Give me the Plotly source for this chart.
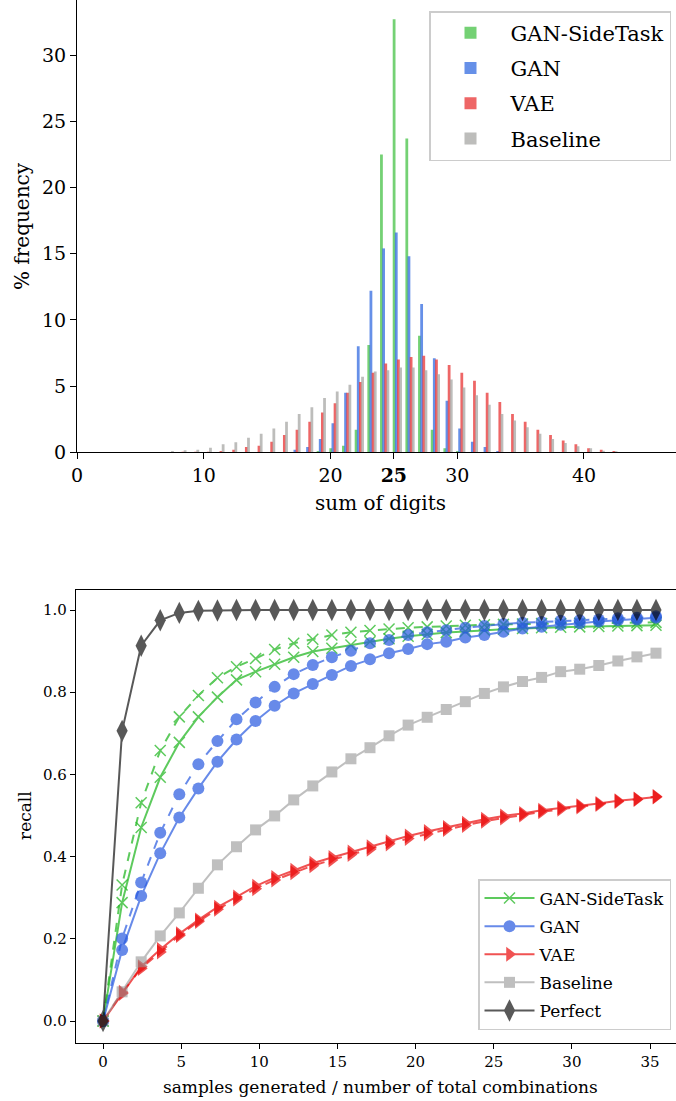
import plotly.graph_objects as go

# ---------------- top panel data: % frequency by sum of digits ----------------
sums = list(range(7, 43))
baseline_hist = [0.1, 0.15, 0.2, 0.35, 0.6, 0.75, 1.1, 1.4, 1.8, 2.3, 2.9, 3.4, 4.1, 4.6, 5.1, 5.7, 6.1, 6.2,
                 6.4, 6.4, 6.2, 5.9, 5.5, 4.9, 4.3, 3.6, 2.9, 2.4, 1.9, 1.4, 1.0, 0.7, 0.45, 0.3, 0.12, 0.08]
vae_hist = [0.0, 0.05, 0.05, 0.05, 0.1, 0.2, 0.4, 0.5, 0.8, 1.3, 1.7, 2.3, 3.0, 3.7, 4.5, 5.3, 6.0, 6.7,
            7.0, 7.2, 7.3, 7.0, 6.6, 6.0, 5.4, 4.5, 3.8, 2.9, 2.3, 1.7, 1.3, 0.9, 0.6, 0.3, 0.2, 0.1]
gan_hist = [0, 0, 0, 0, 0, 0, 0, 0, 0, 0, 0.2, 0.4, 1.0, 2.2, 4.5, 8.0, 12.2, 15.4,
            16.6, 14.8, 11.2, 7.1, 3.9, 1.8, 0.8, 0.4, 0.1, 0, 0, 0, 0, 0, 0, 0, 0, 0]
side_hist = [0, 0, 0, 0, 0, 0, 0, 0, 0, 0, 0, 0, 0.1, 0.3, 0.5, 1.7, 8.1, 22.5,
             32.7, 23.7, 8.8, 1.7, 0.3, 0.1, 0, 0, 0, 0, 0, 0, 0, 0, 0, 0, 0, 0]
top_xticks = [0, 10, 20, 25, 30, 40]
top_xticktext = ["0", "10", "20", "<b>25</b>", "30", "40"]
top_yticks = [0, 5, 10, 15, 20, 25, 30]

# ---------------- bottom panel data: recall curves ----------------
ratio = [0, 1.22, 2.44, 3.66, 4.88, 6.1, 7.32, 8.54, 9.76, 10.98, 12.2, 13.42, 14.64, 15.86, 17.08,
         18.3, 19.52, 20.74, 21.96, 23.18, 24.4, 25.62, 26.84, 28.06, 29.28, 30.5, 31.72, 32.94, 34.16, 35.38]
side_solid = [0, 0.288, 0.471, 0.593, 0.678, 0.740, 0.788, 0.830, 0.850, 0.868, 0.885, 0.899, 0.907, 0.915,
              0.923, 0.930, 0.936, 0.941, 0.945, 0.948, 0.951, 0.953, 0.955, 0.957, 0.958, 0.959, 0.960,
              0.961, 0.962, 0.963]
side_dash = [0, 0.331, 0.531, 0.658, 0.740, 0.792, 0.835, 0.862, 0.882, 0.904, 0.919, 0.929, 0.939, 0.946,
             0.950, 0.954, 0.957, 0.959, 0.961, 0.963, 0.964, 0.965, 0.966, 0.967, 0.967, 0.968, 0.968,
             0.969, 0.969, 0.970]
gan_solid = [0, 0.173, 0.304, 0.408, 0.495, 0.566, 0.631, 0.685, 0.730, 0.767, 0.797, 0.820, 0.842, 0.864,
             0.880, 0.895, 0.905, 0.917, 0.923, 0.933, 0.939, 0.947, 0.955, 0.959, 0.964, 0.968, 0.972,
             0.975, 0.977, 0.981]
gan_dash = [0, 0.201, 0.337, 0.458, 0.552, 0.625, 0.681, 0.734, 0.775, 0.813, 0.844, 0.866, 0.885, 0.901,
            0.919, 0.927, 0.939, 0.946, 0.951, 0.957, 0.961, 0.966, 0.969, 0.971, 0.974, 0.975, 0.977,
            0.980, 0.981, 0.985]
vae_solid = [0, 0.067, 0.132, 0.174, 0.212, 0.246, 0.277, 0.302, 0.328, 0.349, 0.367, 0.384, 0.398, 0.411,
             0.424, 0.436, 0.450, 0.461, 0.471, 0.481, 0.491, 0.499, 0.505, 0.513, 0.519, 0.524, 0.529,
             0.536, 0.540, 0.545]
vae_dash = [0, 0.070, 0.128, 0.168, 0.208, 0.242, 0.272, 0.297, 0.322, 0.343, 0.361, 0.378, 0.392, 0.405,
            0.418, 0.431, 0.444, 0.455, 0.466, 0.476, 0.486, 0.494, 0.501, 0.509, 0.515, 0.521, 0.527,
            0.534, 0.539, 0.546]
baseline_rec = [0, 0.071, 0.144, 0.207, 0.263, 0.323, 0.380, 0.424, 0.465, 0.499, 0.538, 0.572, 0.606, 0.638,
                0.665, 0.694, 0.720, 0.739, 0.758, 0.777, 0.797, 0.813, 0.826, 0.836, 0.850, 0.856, 0.865,
                0.876, 0.886, 0.895]
perfect = [0, 0.706, 0.913, 0.975, 0.993, 0.998, 0.999, 1.0, 1.0, 1.0, 1.0, 1.0, 1.0, 1.0, 1.0, 1.0, 1.0,
           1.0, 1.0, 1.0, 1.0, 1.0, 1.0, 1.0, 1.0, 1.0, 1.0, 1.0, 1.0, 1.0]
bot_xticks = [0, 5, 10, 15, 20, 25, 30, 35]
bot_yticks = [0.0, 0.2, 0.4, 0.6, 0.8, 1.0]

FONT = "DejaVu Serif"
W, H = 676, 1101

fig = go.Figure()

# ---- histogram bars ----
hist_series = [
    ("GAN-SideTask", side_hist, "rgba(70,194,70,0.75)", 0.02),
    ("GAN", gan_hist, "rgba(51,107,224,0.75)", 0.19),
    ("VAE", vae_hist, "rgba(232,51,51,0.75)", 0.36),
    ("Baseline", baseline_hist, "rgba(167,167,164,0.75)", 0.53),
]
for name, vals, col, off in hist_series:
    fig.add_trace(go.Bar(
        x=[s + off for s in sums], y=vals, width=0.22, name=name, legendgroup="h" + name,
        marker=dict(color=col, line=dict(width=0)),
        xaxis="x", yaxis="y", legend="legend",
    ))

# ---- recall curves ----
curve_series = [
    ("GAN-SideTask", side_solid, side_dash, "rgb(40,185,40)", "x-thin", 11, 0.75),
    ("GAN", gan_solid, gan_dash, "rgb(40,90,225)", "circle", 12, 0.7),
    ("VAE", vae_solid, vae_dash, "rgb(235,10,10)", "triangle-right", 13, 0.7),
    ("Baseline", baseline_rec, None, "rgb(150,150,150)", "square", 11, 0.6),
    ("Perfect", perfect, None, "rgb(0,0,0)", "diamond-tall", 16, 0.65),
]
for name, solid, dash, col, sym, size, op in curve_series:
    mk = dict(symbol=sym, size=size, color=col, line=dict(width=1.5 if sym == "x-thin" else 0, color=col))
    fig.add_trace(go.Scatter(
        x=ratio, y=solid, mode="lines+markers", name=name, legendgroup=name,
        line=dict(color=col, width=2), marker=mk, opacity=op,
        xaxis="x2", yaxis="y2", legend="legend2",
    ))
    if dash is not None:
        fig.add_trace(go.Scatter(
            x=ratio, y=dash, mode="lines+markers", name=name, legendgroup=name, showlegend=False,
            line=dict(color=col, width=2, dash="dash"), marker=mk, opacity=op,
            xaxis="x2", yaxis="y2", legend="legend2",
        ))

axis_common = dict(showline=True, linecolor="black", linewidth=1.2, ticks="outside", automargin=False,
                   tickcolor="black", showgrid=False, zeroline=False)

fig.update_layout(
    width=W, height=H,
    margin=dict(l=0, r=0, t=0, b=0, pad=0),
    paper_bgcolor="white", plot_bgcolor="white",
    barmode="overlay",
    font=dict(family=FONT, color="black"),
    xaxis=dict(domain=[77 / W, 1.0], range=[0, 47.26], anchor="y",
               tickvals=top_xticks, ticktext=top_xticktext, ticklen=6, tickwidth=1.2,
               tickfont=dict(size=19), mirror=True, **axis_common),
    yaxis=dict(domain=[1 - 452.3 / H, 1.0], range=[0, 34.16], anchor="x",
               tickvals=top_yticks, ticklen=6, tickwidth=1.2, tickfont=dict(size=19), **axis_common),
    xaxis2=dict(domain=[76 / W, 1.0], range=[-1.73, 36.66], anchor="y2",
                tickvals=bot_xticks, ticklen=5, tickwidth=1, tickfont=dict(size=15), mirror=True,
                **axis_common),
    yaxis2=dict(domain=[1 - 1043 / H, 1 - 590 / H], range=[-0.0535, 1.0487], anchor="x2",
                tickvals=bot_yticks, tickformat=".1f", ticklen=5, tickwidth=1, tickfont=dict(size=15),
                **axis_common),
    legend=dict(x=671 / W, y=1 - 11 / H, xanchor="right", yanchor="top",
                bgcolor="rgba(255,255,255,0.9)", bordercolor="#cccccc", borderwidth=1.5,
                font=dict(size=21, family=FONT), tracegroupgap=5, itemwidth=70),
    legend2=dict(x=671 / W, y=1 - 1030 / H, xanchor="right", yanchor="bottom",
                 bgcolor="rgba(255,255,255,0.9)", bordercolor="#cccccc", borderwidth=1.5,
                 font=dict(size=17, family=FONT), tracegroupgap=3, itemwidth=50),
    annotations=[
        dict(text="% frequency", x=22 / W, y=1 - 226 / H, xref="paper", yref="paper", textangle=-90,
             showarrow=False, font=dict(size=20, family=FONT), xanchor="center", yanchor="middle"),
        dict(text="sum of digits", x=380 / W, y=1 - 503 / H, xref="paper", yref="paper",
             showarrow=False, font=dict(size=20, family=FONT), xanchor="center", yanchor="middle"),
        dict(text="recall", x=25 / W, y=1 - 816 / H, xref="paper", yref="paper", textangle=-90,
             showarrow=False, font=dict(size=17, family=FONT), xanchor="center", yanchor="middle"),
        dict(text="samples generated / number of total combinations", x=380 / W, y=1 - 1087 / H,
             xref="paper", yref="paper", showarrow=False, font=dict(size=17, family=FONT),
             xanchor="center", yanchor="middle"),
    ],
)

fig.write_html("out.html", config={"displayModeBar": False},
               post_script="document.body.style.margin='0';document.body.style.overflow='hidden';")
